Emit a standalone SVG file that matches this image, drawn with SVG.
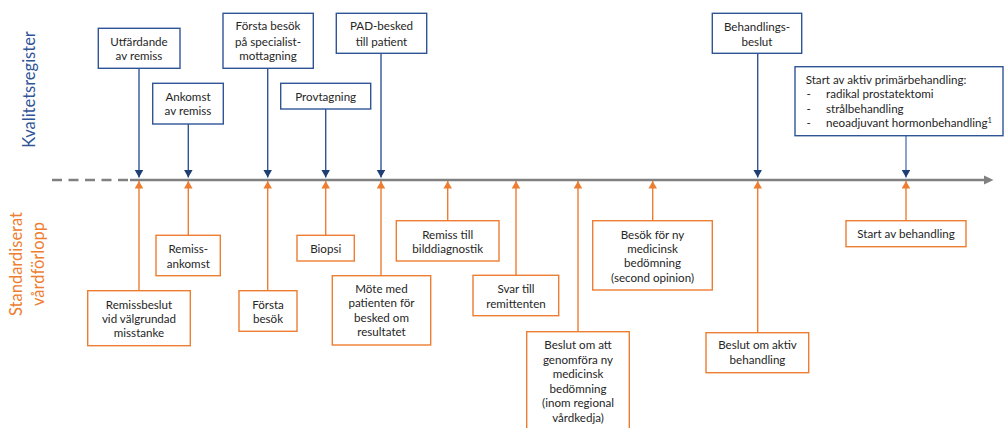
<svg xmlns="http://www.w3.org/2000/svg" width="1004" height="428" viewBox="0 0 1004 428">
  <defs>
    <style>
      text { font-family: Lato, "Liberation Sans", sans-serif; font-size: 11.6px; fill: #262626; text-anchor: middle; }
      .lbl { font-size: 16.5px; }
      .bluebox { fill: #ffffff; stroke: #2f5597; stroke-width: 1.4; }
      .orbox { fill: #ffffff; stroke: #ed7d31; stroke-width: 1.4; }
      .blue { stroke: #2f5597; stroke-width: 1.4; fill: none; marker-end: url(#arrBlue); }
      .orange { stroke: #ed7d31; stroke-width: 1.4; fill: none; marker-end: url(#arrOrange); }
      .axis { stroke: #808080; stroke-width: 2.4; fill: none; }
    </style>
    <marker id="arrBlue" markerUnits="userSpaceOnUse" markerWidth="9" markerHeight="9" refX="7.5" refY="4.25" orient="auto">
      <path d="M0,0 L7.5,4.25 L0,8.5 z" fill="#1f3f74"/>
    </marker>
    <marker id="arrOrange" markerUnits="userSpaceOnUse" markerWidth="9" markerHeight="9" refX="7.5" refY="4.25" orient="auto">
      <path d="M0,0 L7.5,4.25 L0,8.5 z" fill="#ed7d31"/>
    </marker>
  </defs>
  <rect width="1004" height="428" fill="#ffffff"/>

  <!-- side labels -->
  <text class="lbl" transform="translate(35,89.5) rotate(-90)" style="fill:#2f5597">Kvalitetsregister</text>
  <g transform="translate(0,264) rotate(-90)" style="fill:#ed7d31">
    <text class="lbl" x="0" y="22" style="fill:#ed7d31">Standardiserat</text>
    <text class="lbl" x="0" y="44" style="fill:#ed7d31">vårdförlopp</text>
  </g>

  <!-- time axis -->
  <g id="axis">
    <line class="axis" x1="52" y1="180" x2="130" y2="180" stroke-dasharray="10,6.5"/>
    <line class="axis" x1="130" y1="180" x2="986" y2="180"/>
    <path d="M984,175.5 L993.5,180 L984,184.5 z" fill="#808080"/>
  </g>

  <!-- connectors -->
  <g id="connectors">
    <line class="blue" x1="139" y1="68.3" x2="139" y2="177.5"/>
    <line class="blue" x1="188.3" y1="124" x2="188.3" y2="177.5"/>
    <line class="blue" x1="267.7" y1="68.3" x2="267.7" y2="177.5"/>
    <line class="blue" x1="325.7" y1="109" x2="325.7" y2="177.5"/>
    <line class="blue" x1="381" y1="53.3" x2="381" y2="177.5"/>
    <line class="blue" x1="757.7" y1="53.3" x2="757.7" y2="177.5"/>
    <line class="blue" x1="906" y1="135.7" x2="906" y2="177.5" style="stroke:#5a7db8"/>

    <line class="orange" x1="139" y1="290.7" x2="139" y2="181"/>
    <line class="orange" x1="188.3" y1="235.3" x2="188.3" y2="181"/>
    <line class="orange" x1="267.7" y1="290.7" x2="267.7" y2="181"/>
    <line class="orange" x1="325.7" y1="235.3" x2="325.7" y2="181"/>
    <line class="orange" x1="381" y1="275.7" x2="381" y2="181"/>
    <line class="orange" x1="447.7" y1="220.7" x2="447.7" y2="181"/>
    <line class="orange" x1="516" y1="275.3" x2="516" y2="181"/>
    <line class="orange" x1="578" y1="331.7" x2="578" y2="181"/>
    <line class="orange" x1="652.7" y1="220.7" x2="652.7" y2="181"/>
    <line class="orange" x1="757.7" y1="332.7" x2="757.7" y2="181"/>
    <line class="orange" x1="906" y1="220.7" x2="906" y2="181"/>
  </g>

  <!-- Kvalitetsregister nodes -->
  <g id="utfardande">
    <rect class="bluebox" x="98.3" y="28.3" width="81.7" height="40"/>
    <text x="139" y="45.7">Utfärdande</text>
    <text x="139" y="59.5">av remiss</text>
  </g>
  <g id="ankomst">
    <rect class="bluebox" x="152.7" y="83.3" width="70.6" height="40.7"/>
    <text x="188" y="100.5">Ankomst</text>
    <text x="188" y="115">av remiss</text>
  </g>
  <g id="forsta-besok-spec">
    <rect class="bluebox" x="223" y="13.3" width="90.3" height="55"/>
    <text x="268" y="30">Första besök</text>
    <text x="268" y="45.5">på specialist-</text>
    <text x="268" y="59.5">mottagning</text>
  </g>
  <g id="provtagning">
    <rect class="bluebox" x="280.7" y="83.3" width="90" height="25.7"/>
    <text x="325.7" y="100.7">Provtagning</text>
  </g>
  <g id="pad-besked">
    <rect class="bluebox" x="336.3" y="13.3" width="90.4" height="40"/>
    <text x="381.5" y="30">PAD-besked</text>
    <text x="381.5" y="45.5">till patient</text>
  </g>
  <g id="behandlingsbeslut">
    <rect class="bluebox" x="712.3" y="13.3" width="89.4" height="40"/>
    <text x="757" y="30.5">Behandlings-</text>
    <text x="757" y="45.5">beslut</text>
  </g>
  <g id="start-aktiv">
    <rect class="bluebox" x="795" y="66.7" width="208" height="69"/>
    <text x="805.7" y="84" style="text-anchor:start">Start av aktiv primärbehandling:</text>
    <text x="806.5" y="98.3" style="text-anchor:start">-</text>
    <text x="826" y="98.3" style="text-anchor:start">radikal prostatektomi</text>
    <text x="806.5" y="112.5" style="text-anchor:start">-</text>
    <text x="826" y="112.5" style="text-anchor:start">strålbehandling</text>
    <text x="806.5" y="127" style="text-anchor:start">-</text>
    <text x="826" y="127" style="text-anchor:start">neoadjuvant hormonbehandling<tspan dy="-4" style="font-size:7.5px">1</tspan></text>
  </g>

  <!-- Standardiserat vårdförlopp nodes -->
  <g id="remissbeslut">
    <rect class="orbox" x="87.7" y="290.7" width="102.6" height="55"/>
    <text x="139" y="308.5">Remissbeslut</text>
    <text x="139" y="322.5">vid välgrundad</text>
    <text x="139" y="337">misstanke</text>
  </g>
  <g id="remissankomst">
    <rect class="orbox" x="156" y="235.3" width="64.3" height="40.4"/>
    <text x="188.3" y="252.5">Remiss-</text>
    <text x="188.3" y="267.5">ankomst</text>
  </g>
  <g id="forsta-besok">
    <rect class="orbox" x="239" y="290.7" width="58" height="40.6"/>
    <text x="268" y="308.5">Första</text>
    <text x="268" y="322.5">besök</text>
  </g>
  <g id="biopsi">
    <rect class="orbox" x="297" y="235.3" width="57.3" height="25.7"/>
    <text x="325.7" y="252.5">Biopsi</text>
  </g>
  <g id="mote">
    <rect class="orbox" x="332.3" y="275.7" width="98.4" height="69.3"/>
    <text x="381.5" y="292.5">Möte med</text>
    <text x="381.5" y="307">patienten för</text>
    <text x="381.5" y="321.5">besked om</text>
    <text x="381.5" y="336">resultatet</text>
  </g>
  <g id="remiss-bild">
    <rect class="orbox" x="396.3" y="220.7" width="102.7" height="40.3"/>
    <text x="447.7" y="238.5">Remiss till</text>
    <text x="447.7" y="253">bilddiagnostik</text>
  </g>
  <g id="svar">
    <rect class="orbox" x="473" y="275.3" width="85.7" height="40.4"/>
    <text x="516" y="292.5">Svar till</text>
    <text x="516" y="307.5">remittenten</text>
  </g>
  <g id="beslut-ny">
    <rect class="orbox" x="526.7" y="331.7" width="102.6" height="100"/>
    <text x="578" y="349">Beslut om att</text>
    <text x="578" y="364">genomföra ny</text>
    <text x="578" y="378">medicinsk</text>
    <text x="578" y="392.5">bedömning</text>
    <text x="578" y="407">(inom regional</text>
    <text x="578" y="421.5">vårdkedja)</text>
  </g>
  <g id="besok-ny">
    <rect class="orbox" x="592.7" y="220.7" width="119.6" height="69.3"/>
    <text x="652.5" y="238.5">Besök för ny</text>
    <text x="652.5" y="253">medicinsk</text>
    <text x="652.5" y="267">bedömning</text>
    <text x="652.5" y="281.5">(second opinion)</text>
  </g>
  <g id="beslut-aktiv">
    <rect class="orbox" x="706" y="332.7" width="102.7" height="40"/>
    <text x="757.5" y="349">Beslut om aktiv</text>
    <text x="757.5" y="364">behandling</text>
  </g>
  <g id="start-behandling">
    <rect class="orbox" x="846" y="220.7" width="120" height="26"/>
    <text x="906" y="238">Start av behandling</text>
  </g>
</svg>
